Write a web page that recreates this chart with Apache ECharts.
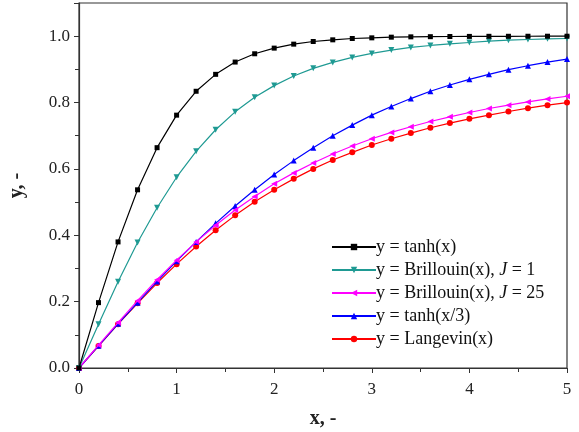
<!DOCTYPE html>
<html>
<head>
<meta charset="utf-8">
<script src="https://cdn.jsdelivr.net/npm/echarts@6/dist/echarts.min.js"></script>
<style>
  html, body { margin: 0; padding: 0; background: #fff; }
  #chart { width: 579px; height: 432px; }
</style>
</head>
<body>
<div id="chart"></div>
<script>
// x positions of the markers
var xs = [0, 0.2, 0.4, 0.6, 0.8, 1.0, 1.2, 1.4, 1.6, 1.8, 2.0, 2.2, 2.4, 2.6, 2.8,
          3.0, 3.2, 3.4, 3.6, 3.8, 4.0, 4.2, 4.4, 4.6, 4.8, 5.0];

var tanhY = [0, 0.197, 0.380, 0.537, 0.664, 0.762, 0.834, 0.885, 0.922, 0.947, 0.964,
             0.976, 0.984, 0.989, 0.993, 0.995, 0.997, 0.998, 0.9985, 0.999, 0.9993,
             0.9996, 0.9997, 0.9998, 0.9999, 0.9999];
var brJ1 = [0, 0.132, 0.260, 0.378, 0.483, 0.575, 0.653, 0.718, 0.772, 0.816, 0.851,
            0.880, 0.903, 0.921, 0.936, 0.948, 0.958, 0.966, 0.972, 0.977, 0.981,
            0.985, 0.988, 0.990, 0.992, 0.993];
var brJ25 = [0, 0.069, 0.137, 0.203, 0.266, 0.325, 0.380, 0.430, 0.476, 0.517, 0.555,
             0.588, 0.618, 0.645, 0.669, 0.691, 0.710, 0.727, 0.743, 0.757, 0.770,
             0.782, 0.792, 0.802, 0.811, 0.819];
var tanh3 = [0, 0.067, 0.133, 0.197, 0.261, 0.322, 0.380, 0.436, 0.488, 0.537, 0.583,
             0.625, 0.664, 0.700, 0.732, 0.762, 0.788, 0.812, 0.834, 0.853, 0.870,
             0.885, 0.899, 0.911, 0.922, 0.931];
var langevin = [0, 0.066, 0.132, 0.195, 0.256, 0.313, 0.366, 0.415, 0.460, 0.501, 0.537,
                0.570, 0.600, 0.627, 0.650, 0.672, 0.691, 0.708, 0.724, 0.738, 0.751,
                0.762, 0.773, 0.783, 0.792, 0.800];

var names = ['y = tanh(x)', 'y = Brillouin(x), J = 1', 'y = Brillouin(x), J = 25',
             'y = tanh(x/3)', 'y = Langevin(x)'];
var colors = ['#000000', '#1f9a93', '#ff00ff', '#0000ff', '#ff0000'];
var symbols = ['rect', 'triangle', 'triangle', 'triangle', 'circle'];
var rotations = [0, 180, 90, 0, 0];

(function() {
    var myChart = echarts.init(document.getElementById('chart'));
    var font = 'Liberation Serif';

    function pairs(ys) {
        return xs.map(function(x, i) { return [x, ys[i]]; });
    }
    var allY = [tanhY, brJ1, brJ25, tanh3, langevin];

    var series = allY.map(function(ys, k) {
        return {
            name: names[k],
            type: 'line',
            data: pairs(ys),
            symbol: symbols[k],
            symbolRotate: rotations[k],
            symbolSize: k === 0 ? 5 : 6,
            z: 10 - k,
            lineStyle: { color: colors[k], width: 1.2 },
            itemStyle: { color: colors[k] },
            emphasis: { disabled: true },
            animation: false
        };
    });

    var option = {
        backgroundColor: '#fff',
        grid: {
            left: 79, right: 12, top: 3, bottom: 64,
            outerBoundsMode: 'none',
            show: true, borderColor: '#333', borderWidth: 1.2
        },
        legend: {
            left: 326, top: 233,
            orient: 'vertical',
            itemWidth: 44, itemHeight: 8, itemGap: 5,
            data: names,
            formatter: function(n) {
                return n.replace(/J = /, '{i|J} = ');
            },
            textStyle: {
                fontFamily: font, fontSize: 18, color: '#111', padding: [0, 0, 0, -5],
                rich: { i: { fontFamily: font, fontSize: 18, fontStyle: 'italic', color: '#111' } }
            }
        },
        xAxis: {
            type: 'value', min: 0, max: 5, interval: 1,
            name: 'x, -', nameLocation: 'middle', nameGap: 41,
            nameTextStyle: { fontFamily: font, fontSize: 20, fontWeight: 'bold', color: '#222' },
            axisLine: { lineStyle: { color: '#333', width: 1.2 } },
            axisTick: { length: 5, lineStyle: { color: '#333' } },
            minorTick: { show: true, splitNumber: 2, length: 4, lineStyle: { color: '#333' } },
            splitLine: { show: false },
            axisLabel: { fontFamily: font, fontSize: 17, color: '#222', margin: 13 }
        },
        yAxis: {
            type: 'value', min: 0, max: 1.1, interval: 0.2,
            name: 'y, -', nameLocation: 'middle', nameGap: 52,
            nameTextStyle: { fontFamily: font, fontSize: 20, fontWeight: 'bold', color: '#222' },
            axisLine: { lineStyle: { color: '#333', width: 1.2 } },
            axisTick: { length: 5, lineStyle: { color: '#333' } },
            minorTick: { show: true, splitNumber: 2, length: 4, lineStyle: { color: '#333' } },
            splitLine: { show: false },
            axisLabel: {
                fontFamily: font, fontSize: 17, color: '#222', margin: 9,
                formatter: function(v) { return v > 1.05 ? '' : v.toFixed(1); }
            }
        },
        series: series
    };

    myChart.setOption(option);

    window.addEventListener('resize', function() {
        myChart.resize();
    });
})();
</script>
</body>
</html>
